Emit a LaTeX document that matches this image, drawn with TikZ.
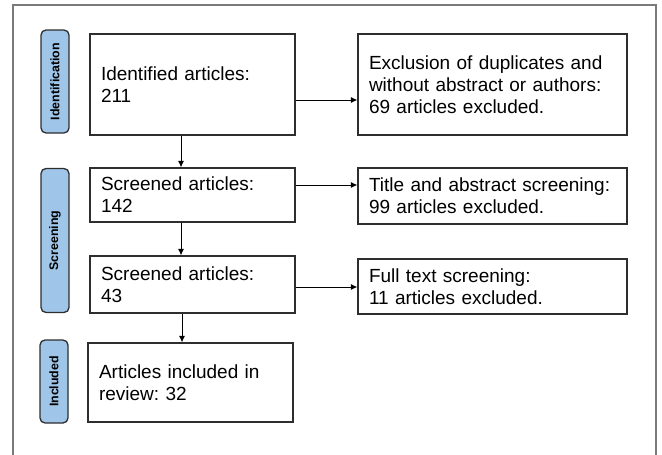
\documentclass[tikz,border=0pt]{standalone}
\usepackage{fontspec}
\setmainfont{Liberation Sans}
\usetikzlibrary{arrows.meta}
\definecolor{pillblue}{HTML}{9FC5E8}
\definecolor{boxline}{HTML}{2E2E2E}
\definecolor{framegray}{HTML}{7A7A7A}
\frenchspacing
\begin{document}
\begin{tikzpicture}[x=1pt,y=-1pt,
  box/.style={draw=boxline, line width=1.2pt, fill=white, align=left,
    inner xsep=11pt, inner ysep=0pt, font=\fontsize{19}{22}\selectfont},
  pill/.style={draw=boxline, line width=1.3pt, fill=pillblue, rounded corners=5pt,
    rotate=90, minimum height=28pt, inner sep=0pt,
    font=\bfseries\fontsize{12.4}{14}\selectfont},
  arr/.style={line width=0.9pt, -{Latex[length=6.5pt,width=6pt]}},
  framestyle/.style={draw=framegray, line width=1.8pt}]
\useasboundingbox (0,0) rectangle (662,455);
\draw[framestyle] (13,456) -- (13,5) -- (656,5) -- (656,456);

\node[pill, minimum width=103pt] (p1) at (55,81.5) {Identification};
\node[pill, minimum width=144pt] (p2) at (55,240.5) {Screening};
\node[pill, minimum width=83pt] (p3) at (54,381.5) {Included};

\node[box, text width=183pt, minimum height=101pt] (b1) at (192.5,84.5) {Identified articles:\\211};
\node[box, text width=183pt, minimum height=54pt] (b2) at (192.5,195) {Screened articles:\\142};
\node[box, text width=183pt, minimum height=57pt] (b3) at (192.5,284.5) {Screened articles:\\43};
\node[box, text width=183pt, minimum height=79pt] (b4) at (190.5,382.5) {Articles included in\\review: 32};

\node[box, text width=247pt, minimum height=101pt] (r1) at (492.5,84.5) {Exclusion of duplicates and\\without abstract or authors:\\69 articles excluded.};
\node[box, text width=247pt, minimum height=56pt] (r2) at (492.5,196) {Title and abstract screening:\\99 articles excluded.};
\node[box, text width=247pt, minimum height=55pt] (r3) at (492.5,286.5) {Full text screening:\\11 articles excluded.};

\draw[arr] (b1.south -| 181,0) -- (b2.north -| 181,0);
\draw[arr] (b2.south -| 181,0) -- (b3.north -| 181,0);
\draw[arr] (b3.south -| 182,0) -- (b4.north -| 182,0);

\draw[arr] (b1.east |- 0,100) -- (r1.west |- 0,100);
\draw[arr] (b2.east |- 0,185) -- (r2.west |- 0,185);
\draw[arr] (b3.east |- 0,287) -- (r3.west |- 0,287);
\end{tikzpicture}
\end{document}
